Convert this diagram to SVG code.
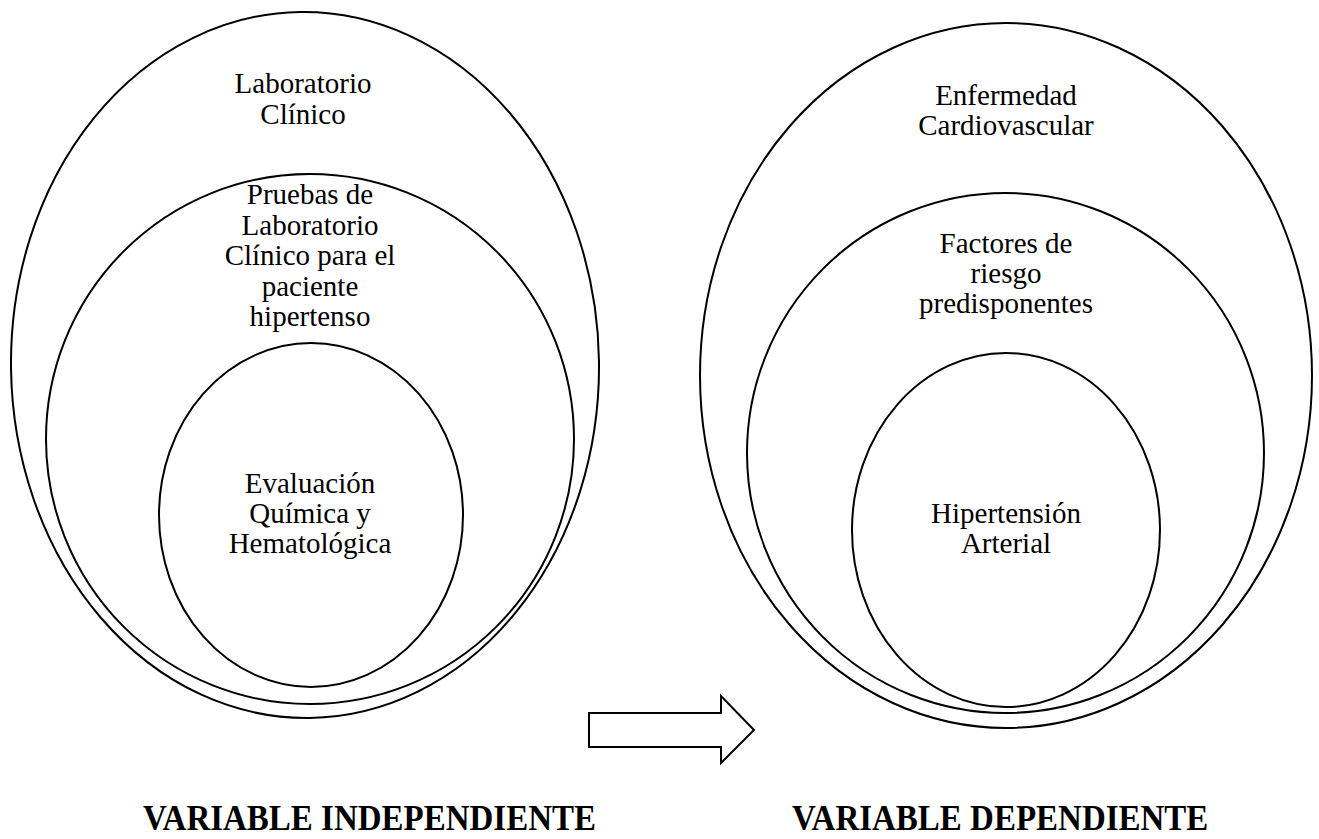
<svg xmlns="http://www.w3.org/2000/svg" width="1319" height="839" viewBox="0 0 1319 839">
<style>
.shape{fill:none;stroke:#000;stroke-width:2}
.t{font-family:"Liberation Serif","Times New Roman",serif;font-size:29px;fill:#000;text-anchor:middle}
.lbl{font-family:"Liberation Serif","Times New Roman",serif;font-size:33px;font-weight:bold;fill:#000}
</style>
<rect width="1319" height="839" fill="#fff"/>
<g id="node-laboratorio-clinico">
<ellipse class="shape" cx="305" cy="365" rx="294" ry="353" transform="rotate(-0.8 305 365)"/>
<text class="t" x="303" y="93">Laboratorio</text>
<text class="t" x="303" y="124">Clínico</text>
</g>
<g id="node-pruebas">
<ellipse class="shape" cx="310" cy="439" rx="264" ry="265"/>
<text class="t" x="310" y="204">Pruebas de</text>
<text class="t" x="310" y="235">Laboratorio</text>
<text class="t" x="310" y="265">Clínico para el</text>
<text class="t" x="310" y="296">paciente</text>
<text class="t" x="310" y="326">hipertenso</text>
</g>
<g id="node-evaluacion">
<ellipse class="shape" cx="311" cy="515" rx="152" ry="172"/>
<text class="t" x="310" y="493">Evaluación</text>
<text class="t" x="310" y="523">Química y</text>
<text class="t" x="310" y="553">Hematológica</text>
</g>
<g id="node-enfermedad">
<ellipse class="shape" cx="1006" cy="375.5" rx="306" ry="352.5"/>
<text class="t" x="1006" y="105">Enfermedad</text>
<text class="t" x="1006" y="135">Cardiovascular</text>
</g>
<g id="node-factores">
<ellipse class="shape" cx="1005.5" cy="453" rx="258.5" ry="260"/>
<text class="t" x="1006" y="253">Factores de</text>
<text class="t" x="1006" y="283">riesgo</text>
<text class="t" x="1006" y="313">predisponentes</text>
</g>
<g id="node-hipertension">
<ellipse class="shape" cx="1006" cy="530" rx="154" ry="177"/>
<text class="t" x="1006" y="523">Hipertensión</text>
<text class="t" x="1006" y="553">Arterial</text>
</g>
<g id="connectors">
<polygon class="shape" points="589,713 721,713 721,696 754,730 721,763 721,747 589,747"/>
</g>
<g id="labels">
<text class="lbl" transform="translate(143,830) scale(1,1.1)">VARIABLE INDEPENDIENTE</text>
<text class="lbl" transform="translate(792,830) scale(1,1.1)">VARIABLE DEPENDIENTE</text>
</g>
</svg>
